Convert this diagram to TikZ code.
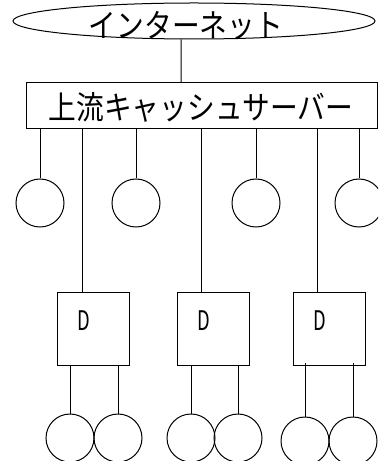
\documentclass[tikz,border=0pt]{standalone}
\usepackage{fontspec}
\setmainfont{Noto Sans CJK JP}
\usetikzlibrary{shapes.geometric}
\tikzset{
  pc/.style={draw, circle, minimum size=48bp, inner sep=0pt},
  dbox/.style={draw, rectangle, minimum width=72bp, minimum height=73bp, inner sep=0pt},
  dlabel/.style={font=\fontsize{27bp}{30bp}\selectfont, inner sep=0pt},
  jp/.style={font=\fontsize{28bp}{30bp}\selectfont, inner sep=0pt}
}
\newcommand{\tallj}[1]{\scalebox{0.99}[1.15]{#1}}
\newcommand{\narrowd}[1]{\scalebox{0.68}[1]{#1}}
\begin{document}
\begin{tikzpicture}[x=1bp, y=-1bp, line width=1bp]
\useasboundingbox (0,0) rectangle (378,461);
\clip (0,0) rectangle (378,461);
\node[draw, ellipse, minimum width=362bp, minimum height=36bp, inner sep=0pt] (inet) at (194,21) {};
\node[jp] (inettext) at (186,26) {\tallj{インターネット}};
\node[draw, rectangle, minimum width=350bp, minimum height=46bp, inner sep=0pt] (srv) at (202,106) {};
\node[jp] (srvtext) at (201,107) {\tallj{上流キャッシュサーバー}};
\draw ([xshift=-13bp]inet.south) -- ([xshift=-21bp]srv.north);

\node[pc] (c1) at (40,203) {};
\node[pc] (c2) at (136,203) {};
\node[pc] (c3) at (256,203) {};
\node[pc] (c4) at (359,203) {};
\foreach \c in {c1,c2,c3,c4} \draw (\c.north) -- (\c.north |- srv.south);

\node[dbox] (d1) at (93,328.5) {};
\node[dbox] (d2) at (213,328.5) {};
\node[dbox] (d3) at (329.5,328.5) {};
\node[dlabel] (t1) at (83.5,321) {\narrowd{D}};
\node[dlabel] (t2) at (204,321) {\narrowd{D}};
\node[dlabel] (t3) at (320,321) {\narrowd{D}};
\draw ([xshift=-11bp]d1.north) -- ([xshift=-11bp]d1.north |- srv.south);
\draw ([xshift=-12bp]d2.north) -- ([xshift=-12bp]d2.north |- srv.south);
\draw ([xshift=-12.5bp]d3.north) -- ([xshift=-12.5bp]d3.north |- srv.south);

\node[pc] (b1) at (70,438) {};
\node[pc] (b2) at (118,438) {};
\node[pc] (b3) at (191,438) {};
\node[pc] (b4) at (238,438) {};
\node[pc] (b5) at (305,441) {};
\node[pc] (b6) at (353,441) {};
\draw (b1.north) -- (b1.north |- d1.south);
\draw (b2.north) -- (b2.north |- d1.south);
\draw (b3.north) -- (b3.north |- d2.south);
\draw (b4.north) -- (b4.north |- d2.south);
\draw (b5.north) -- ([yshift=3bp]b5.north |- d3.south);
\draw (b6.north) -- ([yshift=3bp]b6.north |- d3.south);
\end{tikzpicture}
\end{document}
